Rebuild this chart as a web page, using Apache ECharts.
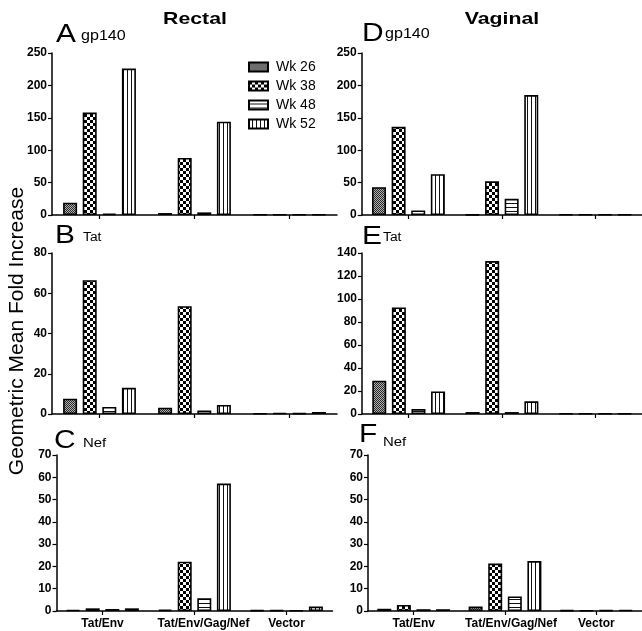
<!DOCTYPE html>
<html>
<head>
<meta charset="utf-8">
<script src="https://cdn.jsdelivr.net/npm/echarts@6/dist/echarts.min.js"></script>
<style>html,body{margin:0;padding:0;background:#fff;}#c{width:642px;height:631px;}</style>
</head>
<body>
<div id="c"></div>
<script>
const categories = ['Tat/Env', 'Tat/Env/Gag/Nef', 'Vector'];
const weeks = ['Wk 26', 'Wk 38', 'Wk 48', 'Wk 52'];
// each panel: one array per week (Wk 26, Wk 38, Wk 48, Wk 52), values per category
const rectalGp140 = [[19, 3, 0.8], [158, 88, 1], [2, 4, 0.8], [226, 144, 1]];
const rectalTat = [[7.6, 3.1, 0.3], [66.5, 53.6, 0.5], [3.5, 1.8, 0.4], [13, 4.5, 1.0]];
const rectalNef = [[0.5, 0.6, 0.3], [1.2, 22.1, 0.3], [0.9, 5.7, 0.2], [1.2, 57.2, 2.0]];
const vaginalGp140 = [[43, 0.5, 1], [136, 52, 1], [7, 25, 1], [63, 185, 1]];
const vaginalTat = [[29, 1.7, 0.5], [92.7, 133, 0.5], [4.3, 1.7, 0.5], [19.6, 11, 0.5]];
const vaginalNef = [[1.0, 2.0, 0.3], [2.7, 21.3, 0.2], [0.8, 6.5, 0.3], [0.8, 22.4, 0.5]];
const yMax = [250, 80, 70, 250, 140, 70];
const yStep = [50, 20, 10, 50, 20, 10];

function mk(w, h, draw) {
  const c = document.createElement('canvas');
  c.width = w; c.height = h;
  const g = c.getContext('2d');
  draw(g);
  return {image: c, repeat: 'repeat'};
}
const patterns = [
  mk(2, 2, g => { g.fillStyle = '#b0b0b0'; g.fillRect(0, 0, 2, 2); g.fillStyle = '#2a2a2a'; g.fillRect(0, 0, 1, 1); g.fillRect(1, 1, 1, 1); }),
  mk(6, 6, g => { g.fillStyle = '#fff'; g.fillRect(0, 0, 6, 6); g.fillStyle = '#000'; g.fillRect(0, 0, 3, 3); g.fillRect(3, 3, 3, 3); }),
  mk(4, 4, g => { g.fillStyle = '#fff'; g.fillRect(0, 0, 4, 4); g.fillStyle = '#111'; g.fillRect(0, 3, 4, 1); }),
  mk(4, 4, g => { g.fillStyle = '#fff'; g.fillRect(0, 0, 4, 4); g.fillStyle = '#111'; g.fillRect(3, 0, 1, 4); })
];

const panels = [rectalGp140, rectalTat, rectalNef, vaginalGp140, vaginalTat, vaginalNef];
const grids = [
  {left: 52, top: 53, width: 285, height: 162},
  {left: 52, top: 253, width: 285, height: 161},
  {left: 56.5, top: 455, width: 276, height: 156},
  {left: 361.7, top: 53, width: 283.5, height: 162},
  {left: 362, top: 253, width: 283, height: 161},
  {left: 368, top: 455, width: 276, height: 156}
];
const FONT = 'Liberation Sans, Arial, sans-serif';

const xAxes = grids.map((g, i) => {
  const showLbl = (i === 2 || i === 5);
  return {
    type: 'category', gridIndex: i,
    data: categories.map((c, k) => k === 1 ? {value: c, textStyle: {padding: [0, 0, 0, i === 2 ? 18 : 12]}} : c),
    axisLine: {lineStyle: {color: '#000', width: 1.5}},
    axisTick: {show: true, alignWithLabel: true, length: 4, lineStyle: {color: '#000', width: 1.2}},
    axisLabel: {show: showLbl, interval: 0, margin: 7, color: '#000', fontWeight: 'bold', fontSize: 12, fontFamily: FONT},
    splitLine: {show: false}
  };
});
const yAxes = grids.map((g, i) => ({
  type: 'value', gridIndex: i, min: 0, max: yMax[i], interval: yStep[i],
  axisLine: {show: true, lineStyle: {color: '#000', width: 1.5}},
  axisTick: {show: true, length: 4, lineStyle: {color: '#000', width: 1.2}},
  axisLabel: {margin: 5, color: '#000', fontWeight: 'bold', fontSize: 12, fontFamily: FONT},
  splitLine: {show: false}
}));
const series = [];
panels.forEach((p, i) => {
  weeks.forEach((w, k) => {
    series.push({
      type: 'bar', name: w, xAxisIndex: i, yAxisIndex: i,
      data: p[k], barWidth: 14, barGap: '40%',
      itemStyle: {color: patterns[k], borderColor: '#000', borderWidth: 1.6},
      emphasis: {disabled: true}, animation: false
    });
  });
});

function txt(s, x, y, size, opts) {
  return Object.assign({
    type: 'text', x: x, y: y, scaleX: 1.15,
    style: {text: s, fontSize: size, fontFamily: FONT, fill: '#000', align: 'left', verticalAlign: 'middle'}
  }, opts || {});
}
const graphics = [
  {type: 'text', x: 195, y: 19, scaleX: 1.25, style: {text: 'Rectal', fontSize: 17, fontWeight: 'bold', fontFamily: FONT, fill: '#000', align: 'center', verticalAlign: 'middle'}},
  {type: 'text', x: 502, y: 19, scaleX: 1.25, style: {text: 'Vaginal', fontSize: 17, fontWeight: 'bold', fontFamily: FONT, fill: '#000', align: 'center', verticalAlign: 'middle'}},
  txt('A', 56, 35, 26), txt('gp140', 81, 36, 14),
  txt('B', 55, 236, 26), txt('Tat', 83, 238, 12),
  txt('C', 54, 441, 26), txt('Nef', 83, 443, 13),
  txt('D', 362, 34, 26), txt('gp140', 385, 34, 14),
  txt('E', 362, 237, 26), txt('Tat', 383, 238, 12),
  txt('F', 359, 435, 26), txt('Nef', 383, 442, 13),
  {type: 'text', x: 17, y: 331, rotation: Math.PI / 2, style: {text: 'Geometric Mean Fold Increase', fontSize: 21, fontFamily: FONT, fill: '#000', align: 'center', verticalAlign: 'middle'}}
];

const chart = echarts.init(document.getElementById('c'), null, {renderer: 'canvas'});
chart.setOption({
  animation: false,
  backgroundColor: '#fff',
  grid: grids,
  xAxis: xAxes,
  yAxis: yAxes,
  legend: {
    data: weeks, orient: 'vertical', left: 243, top: 55, itemWidth: 19, itemHeight: 9, itemGap: 5,
    selectedMode: false, icon: 'rect',
    textStyle: {fontSize: 14, fontFamily: FONT, color: '#000', padding: [0, 0, 0, 3]}
  },
  series: series,
  graphic: graphics
});
</script>
</body>
</html>
